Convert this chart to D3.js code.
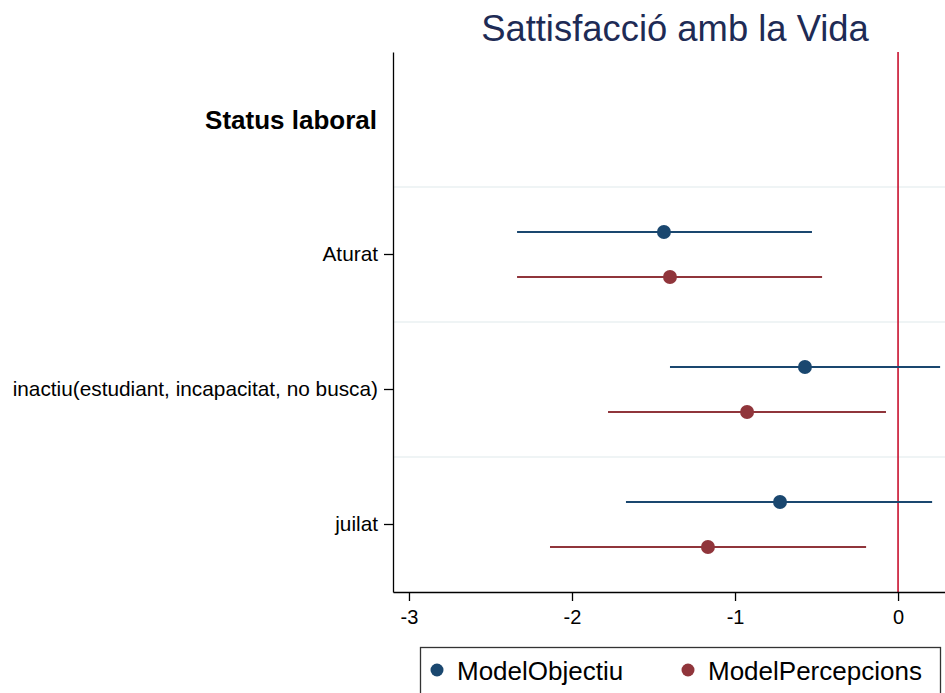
<!DOCTYPE html>
<html><head><meta charset="utf-8">
<script src="https://cdn.jsdelivr.net/npm/d3@7"></script>
<style>body{margin:0;background:#fff}svg{display:block;font-family:"Liberation Sans",Arial,sans-serif}</style>
</head><body><svg id="c" width="945" height="693"></svg>
<script>
const title = "Sattisfacció amb la Vida";
const groupHeader = "Status laboral";
const categories = ["Aturat", "inactiu(estudiant, incapacitat, no busca)", "juilat"];
const seriesNames = ["ModelObjectiu", "ModelPercepcions"];
const seriesColors = ["#1a476f", "#90353b"];
const objEst = [-1.436, -0.571, -0.724];
const objLo  = [-2.337, -1.399, -1.669];
const objHi  = [-0.528, 0.258, 0.209];
const perEst = [-1.399, -0.926, -1.166];
const perLo  = [-2.337, -1.779, -2.135];
const perHi  = [-0.466, -0.074, -0.196];
const xTicks = [-3, -2, -1, 0];

const svg = d3.select("#c");
const L = 393, R = 945, T = 52, B = 592;
const x = d3.scaleLinear().domain([-3.098, 0.288]).range([L, R]);
const rows = [groupHeader, ...categories];
const y = d3.scaleBand().domain(rows).range([T, B]);
const off = d3.scaleOrdinal().domain(seriesNames).range([-22.5, 22.5]);

// row separators
svg.append("g").selectAll("line").data(categories).join("line")
  .attr("x1", L).attr("x2", R)
  .attr("y1", d => y(d)).attr("y2", d => y(d))
  .attr("stroke", "#eaf0f2").attr("stroke-width", 1.5);

// zero line
svg.append("line").attr("x1", x(0)).attr("x2", x(0)).attr("y1", T).attr("y2", B)
  .attr("stroke", "#c8102e").attr("stroke-width", 1.6);

const data = [];
categories.forEach((c, i) => {
  data.push({c, s: seriesNames[0], col: seriesColors[0], e: objEst[i], lo: objLo[i], hi: objHi[i]});
  data.push({c, s: seriesNames[1], col: seriesColors[1], e: perEst[i], lo: perLo[i], hi: perHi[i]});
});
const cy = d => y(d.c) + y.bandwidth() / 2 + off(d.s);
const g = svg.append("g");
g.selectAll("line").data(data).join("line")
  .attr("x1", d => x(d.lo)).attr("x2", d => x(Math.min(d.hi, 0.288)))
  .attr("y1", cy).attr("y2", cy)
  .attr("stroke", d => d.col).attr("stroke-width", 2.2);
g.selectAll("circle").data(data).join("circle")
  .attr("cx", d => x(d.e)).attr("cy", cy).attr("r", 7)
  .attr("fill", d => d.col);

// x axis
const xa = svg.append("g").attr("transform", `translate(0,${B})`)
  .call(d3.axisBottom(x).tickValues(xTicks).tickFormat(d => String(d)).tickSize(9).tickPadding(9).tickSizeOuter(0));
xa.attr("font-size", 20).attr("font-family", "Liberation Sans, Arial, sans-serif");
xa.select(".domain").attr("stroke", "#000").attr("stroke-width", 1.3);
xa.selectAll(".tick line").attr("stroke", "#000").attr("stroke-width", 1.3);
xa.selectAll(".tick text").attr("fill", "#000");

// y axis
const ya = svg.append("g").attr("transform", `translate(${L},0)`)
  .call(d3.axisLeft(y).tickValues(categories).tickSize(9).tickPadding(6).tickSizeOuter(0));
ya.attr("font-size", 20.8).attr("font-family", "Liberation Sans, Arial, sans-serif");
ya.select(".domain").attr("stroke", "#000").attr("stroke-width", 1.3);
ya.selectAll(".tick line").attr("stroke", "#000").attr("stroke-width", 1.3);
ya.selectAll(".tick text").attr("fill", "#000");

svg.append("text").attr("x", L - 16).attr("y", y(groupHeader) + y.bandwidth() / 2 + 9)
  .attr("text-anchor", "end").attr("font-weight", "bold").attr("font-size", 26).text(groupHeader);

svg.append("text").attr("x", 675).attr("y", 41).attr("text-anchor", "middle")
  .attr("font-size", 36.4).attr("fill", "#1e2b55").text(title);

// legend
svg.append("rect").attr("x", 420.5).attr("y", 647.5).attr("width", 520).attr("height", 60)
  .attr("fill", "#fff").attr("stroke", "#333").attr("stroke-width", 1.3);
const lx = [437, 688];
const leg = svg.append("g").selectAll("g").data(seriesNames).join("g")
  .attr("transform", (d, i) => `translate(${lx[i]},670)`);
leg.append("circle").attr("r", 6.5).attr("fill", (d, i) => seriesColors[i]);
leg.append("text").attr("x", 20).attr("y", 9.5).attr("font-size", 26).attr("fill", "#000").text(d => d);
</script></body></html>
